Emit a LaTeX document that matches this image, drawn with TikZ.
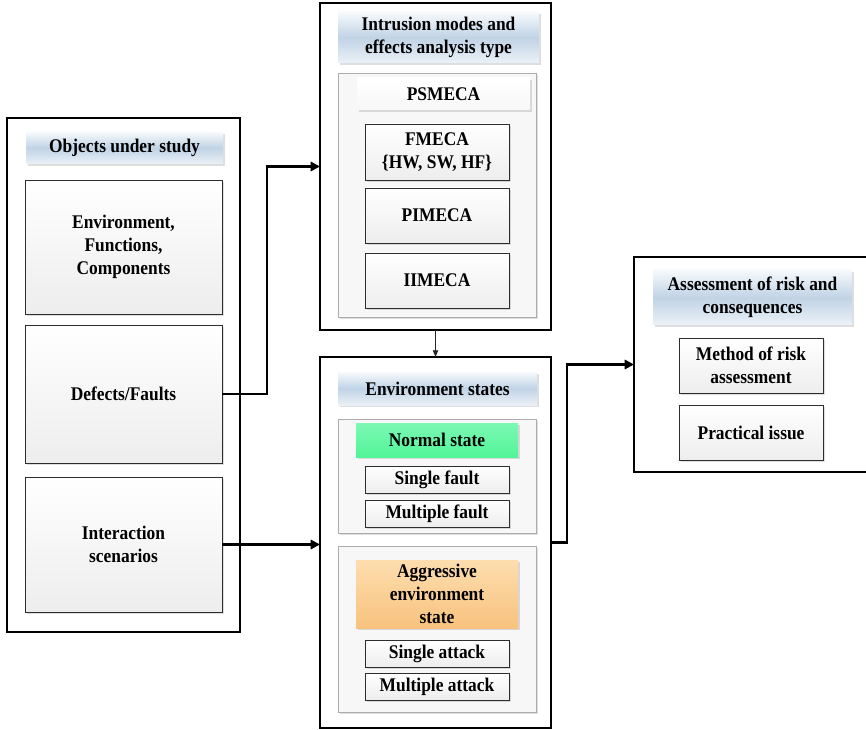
\documentclass[tikz,border=0pt]{standalone}
\usepackage{fontspec}
\setmainfont{Liberation Serif}[FakeStretch=0.9]
\usepackage{xcolor}
\usepackage{tikz}
\usetikzlibrary{arrows.meta,positioning,shadows}
\definecolor{hdrTop}{HTML}{F7FAFC}
\definecolor{hdrMid}{HTML}{C0D3E6}
\definecolor{hdrBot}{HTML}{EBF1F7}
\definecolor{normTop}{HTML}{7CF8B4}
\definecolor{normBot}{HTML}{52F598}
\definecolor{aggTop}{HTML}{FDDDAE}
\definecolor{aggBot}{HTML}{F8C27E}

\begin{document}
\begin{tikzpicture}[x=0.75pt, y=-0.75pt,
        every node/.style={inner sep=2pt, outer sep=0pt, align=center, font=\fontsize{14.5}{17.5}\selectfont\bfseries},
        sz/.style 2 args={minimum width=#1*0.75pt, minimum height=#2*0.75pt},
        shdw/.style={drop shadow={shadow xshift=1.3pt, shadow yshift=-1.3pt, fill=black, opacity=0.13}},
        frame/.style={draw=black, line width=1.3pt, fill=white},
        panel/.style={draw=gray!65, line width=0.6pt, fill=gray!6, shdw},
        hdr/.style={top color=hdrTop, bottom color=hdrBot, middle color=hdrMid, shdw},
        item/.style={draw=gray!35!black, line width=0.7pt, top color=white, bottom color=gray!14, shdw},
        link/.style={-{Triangle[length=7pt,width=7pt]}, line width=1.6pt},
        thinlink/.style={-{Triangle[length=5pt,width=4pt]}, line width=0.6pt, draw=gray!30!black, fill=gray!30!black}
    ]
        \useasboundingbox (0,0) rectangle (866,730);

        \node[frame, sz={233}{514}] (objects) at (123.5,375) {};
        \node[hdr, sz={197}{32}] (objhdr) at (124.5,148) {Objects under study};
        \node[item, sz={197}{134}] (envfc) at (123.5,247) {Environment,\\Functions,\\Components};
        \node[item, sz={197}{138}] (defects) at (123.5,394) {Defects/Faults};
        \node[item, sz={197}{135}] (interact) at (123.5,544.5) {Interaction\\scenarios};

        \node[frame, sz={231}{327}] (imea) at (435.5,166.5) {};
        \node[hdr, sz={201}{51}] (imeahdr) at (438.5,37.5) {Intrusion modes and\\effects analysis type};
        \node[panel, sz={198}{244}] (pspanel) at (437,195) {};
        \node[hdr, top color=white, middle color=gray!12, bottom color=gray!6, sz={173}{32}] (psmeca) at (443.5,94) {PSMECA};
        \node[item, sz={144}{56}] (fmeca) at (437,152) {FMECA\\\{HW, SW, HF\}};
        \node[item, sz={144}{55}] (pimeca) at (437,215.5) {PIMECA};
        \node[item, sz={144}{55}] (iimeca) at (437,280.5) {IIMECA};

        \node[frame, sz={231}{371}] (states) at (435.5,542.5) {};
        \node[hdr, sz={199}{33}] (stateshdr) at (437.5,388.5) {Environment states};
        \node[panel, sz={198}{114}] (normpanel) at (437,476) {};
        \node[item, draw=none, top color=normTop, bottom color=normBot, sz={162}{34}] (normal) at (437,440) {Normal state};
        \node[item, sz={144}{27}] (sfault) at (437,479.5) {Single fault};
        \node[item, sz={144}{27}] (mfault) at (437,513.5) {Multiple fault};
        \node[panel, sz={198}{166}] (aggpanel) at (437,629) {};
        \node[item, draw=none, top color=aggTop, bottom color=aggBot, sz={162}{68}] (aggr) at (437,594) {Aggressive\\environment\\state};
        \node[item, sz={144}{27}] (sattack) at (437,653.5) {Single attack};
        \node[item, sz={144}{27}] (mattack) at (437,686.5) {Multiple attack};

        \node[frame, sz={238}{215}] (risk) at (753,364.5) {};
        \node[hdr, sz={199}{55}] (riskhdr) at (752.5,297.5) {Assessment of risk and\\consequences};
        \node[item, sz={144}{55}] (method) at (751,365.5) {Method of risk\\assessment};
        \node[item, sz={144}{55}] (practical) at (751,432.5) {Practical issue};

        \draw[link] (defects.east) -- ++(45,0) |- (imea.west);
        \draw[link] (interact.east) -- (interact.east -| states.west);
        \draw[link] (states.east) -- ++(16,0) |- (risk.west);
        \draw[thinlink] (imea.south) -- (states.north);
    \end{tikzpicture}
\end{document}
